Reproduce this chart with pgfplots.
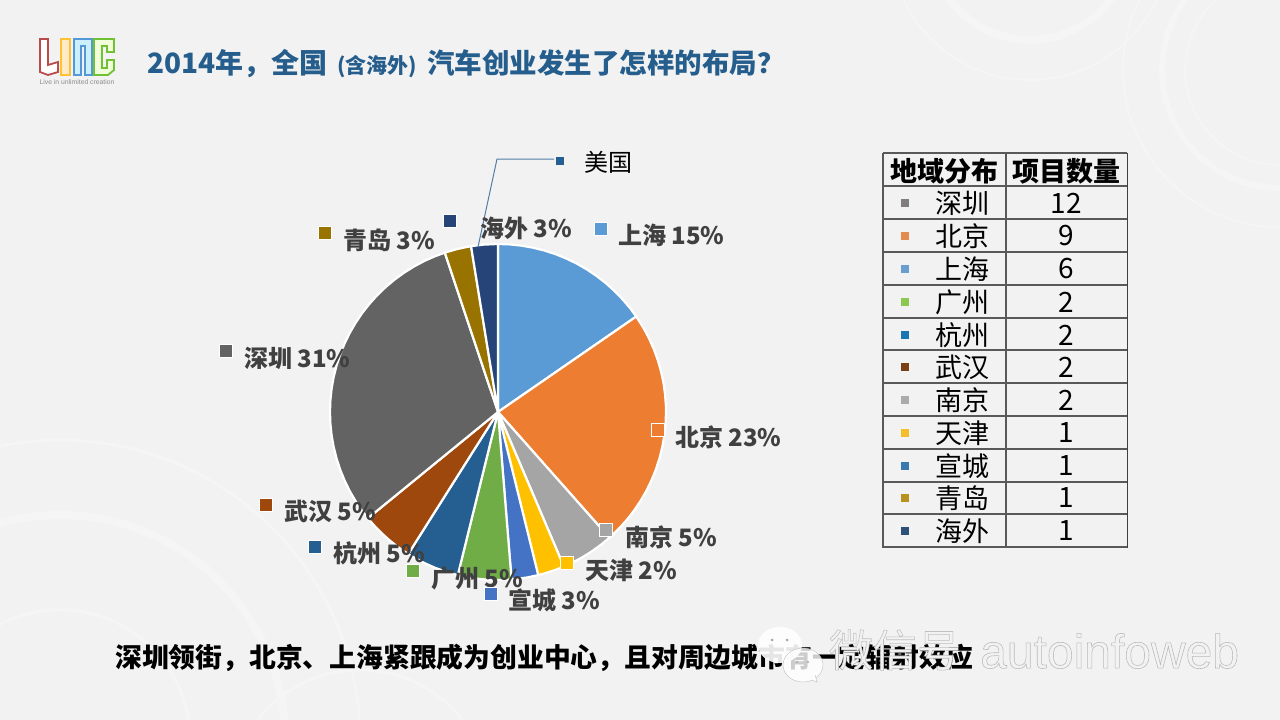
\documentclass[border=0pt]{standalone}
\usepackage{pgfplots}
\usepgfplotslibrary{polar}
\pgfplotsset{compat=1.18}
\usepackage{fontspec}
\setmainfont{Noto Sans CJK SC}
\newfontfamily\wmfont{Liberation Sans}
\newcommand\fs[1]{\fontsize{#1}{#1}\selectfont}
\newcommand\outl[2]{\special{pdf:code #1 G 2 Tr 0.55 w}#2\special{pdf:code 0 Tr 0 G}}
% pie colours
\definecolor{cSH}{HTML}{5B9BD5}\definecolor{cBJ}{HTML}{ED7D31}\definecolor{cNJ}{HTML}{A5A5A5}
\definecolor{cTJ}{HTML}{FFC000}\definecolor{cXC}{HTML}{4472C4}\definecolor{cGZ}{HTML}{70AD47}
\definecolor{cHZ}{HTML}{255E91}\definecolor{cWH}{HTML}{9E480E}\definecolor{cSZ}{HTML}{636363}
\definecolor{cQD}{HTML}{997300}\definecolor{cHW}{HTML}{264478}
% table colours
\definecolor{tSZ}{HTML}{807C80}\definecolor{tBJ}{HTML}{E38B4F}\definecolor{tSH}{HTML}{6B9ED0}
\definecolor{tGZ}{HTML}{8CC850}\definecolor{tHZ}{HTML}{1A75B0}\definecolor{tWH}{HTML}{7A4015}
\definecolor{tNJ}{HTML}{ABABAB}\definecolor{tTJ}{HTML}{F4BE2C}\definecolor{tXC}{HTML}{3A78B0}
\definecolor{tQD}{HTML}{B8921E}\definecolor{tHW}{HTML}{2C5078}
\definecolor{bgc}{HTML}{F2F2F2}\definecolor{ring}{HTML}{F5F5F5}
\definecolor{titlec}{HTML}{255E8C}\definecolor{lab}{HTML}{404040}
\pgfplotsset{px/.style={at={(0pt,0pt)},anchor=south west,scale only axis,width=1280pt,height=720pt,
  xmin=0,xmax=1280,ymin=0,ymax=720,y dir=reverse,hide axis,clip=false}}
\newcommand\W[2]{\addplot[fill=#1,draw=white,line width=2.2pt,line join=round] coordinates {(0,0) #2} -- cycle;}
\newcommand\SQ[3]{\addplot[only marks,mark=square*,mark size=6.5pt,color=#1,mark options={fill=#1,draw=white,line width=0.8pt}] coordinates {(#2,#3)};}
\newcommand\TS[3]{\addplot[only marks,mark=square*,mark size=3.8pt,color=#1,mark options={fill=#1,draw=#1,line width=0pt}] coordinates {(#2,#3)};}
\newcommand\LB[3]{\node[anchor=west,inner sep=0pt,text=lab,font=\fs{24}\bfseries] at (#1,#2) {#3};}
\newcommand\RW[3]{\node[font=\fs{27}] at (962,#1) {#2};\node[font=\fs{28}] at (1066,#1) {#3};}
\begin{document}
\begin{tikzpicture}[x=1pt,y=1pt]
\useasboundingbox (0,0) rectangle (1280,720);
\fill[bgc] (0,0) rectangle (1280,720);
% background and logo
\begin{axis}[px]
\begin{scope}
\clip (0,0) rectangle (1280,720);
\draw[ring,line width=2pt] (1280,70) circle[radius=157];
\draw[ring,line width=6pt] (1280,70) circle[radius=118];
\draw[ring,line width=2pt] (1280,70) circle[radius=95];
\draw[ring,line width=2pt] (1030,-60) circle[radius=140];
\draw[ring,line width=8pt] (1030,-60) circle[radius=100];
\draw[ring,line width=3pt] (60,740) circle[radius=300];
\draw[ring,line width=8pt] (60,740) circle[radius=225];
\draw[ring,line width=3pt] (60,740) circle[radius=130];
\draw[ring,line width=3pt] (360,800) circle[radius=130];
\end{scope}
\draw[line width=1.8pt,draw=red!60!black!70!white,fill=white] (40,39)--(48,39)--(48,65)--(58,62)--(58,72)--(48,75)--(40,72)--cycle;
\draw[line width=1.8pt,draw=orange!60!yellow!80!white,fill=yellow!25!orange!20!white] (61,39) rectangle (70,75);
\draw[line width=1.8pt,draw=cyan!60!blue!70!white,fill=cyan!20!white] (74,39)--(92,39)--(92,75)--(85,75)--(85,46)--(81,46)--(81,75)--(74,75)--cycle;
\draw[line width=1.8pt,draw=green!40!olive!80!white,fill=green!40!yellow!15!white] (94,39)--(114,39)--(114,52)--(107,52)--(107,46)--(102,46)--(102,68)--(107,68)--(107,60)--(114,60)--(114,70)--(108,75)--(94,75)--cycle;
\node[text=gray!90,font=\wmfont\fs{6.8},inner sep=0pt] at (77,82) {Live in unlimited creation};
\end{axis}
% pie
\begin{polaraxis}[at={(498pt,308pt)},anchor=center,scale only axis,width=336pt,height=336pt,
  xmin=0,xmax=360,ymin=0,ymax=168,hide axis,clip=false]
\W{cSH}{(90,168)(86,168)(82,168)(78,168)(74,168)(70,168)(66,168)(62,168)(58,168)(54,168)(50,168)(46,168)(42,168)(38,168)(34.62,168)}
\W{cBJ}{(34.62,168)(30,168)(26,168)(22,168)(18,168)(14,168)(10,168)(6,168)(2,168)(0,168)(356,168)(352,168)(348,168)(344,168)(340,168)(336,168)(332,168)(328,168)(324,168)(320,168)(316,168)(311.54,168)}
\W{cNJ}{(311.54,168)(308,168)(304,168)(300,168)(296,168)(293.08,168)}
\W{cTJ}{(293.08,168)(290,168)(286,168)(283.85,168)}
\W{cXC}{(283.85,168)(280,168)(276,168)(274.62,168)}
\W{cGZ}{(274.62,168)(272,168)(268,168)(264,168)(260,168)(256.15,168)}
\W{cHZ}{(256.15,168)(252,168)(248,168)(244,168)(240,168)(237.69,168)}
\W{cWH}{(237.69,168)(234,168)(230,168)(226,168)(222,168)(219.23,168)}
\W{cSZ}{(219.23,168)(216,168)(212,168)(208,168)(204,168)(200,168)(196,168)(192,168)(188,168)(184,168)(180,168)(176,168)(172,168)(168,168)(164,168)(160,168)(156,168)(152,168)(148,168)(144,168)(140,168)(136,168)(132,168)(128,168)(124,168)(120,168)(116,168)(112,168)(108.46,168)}
\W{cQD}{(108.46,168)(104,168)(99.23,168)}
\W{cHW}{(99.23,168)(95,168)(90,168)}
\end{polaraxis}
% overlay: labels, table, title
\begin{axis}[px]
\addplot[color=cHZ!80!white,line width=1pt] coordinates {(478,247)(497,159)(554,159)};
\addplot[only marks,mark=square*,mark size=3.2pt,color=cHZ,mark options={fill=cHZ,draw=cHZ,line width=0pt}] coordinates {(560,161)};
\node[anchor=west,inner sep=0pt,font=\fs{24}] at (584,162) {美国};
\SQ{cHW}{450}{221}\LB{480}{228}{海外 3\%}
\SQ{cSH}{601}{229}\LB{618}{235}{上海 15\%}
\SQ{cQD}{325}{233}\LB{343}{240}{青岛 3\%}
\SQ{cSZ}{226}{351}\LB{244}{358}{深圳 31\%}
\SQ{cBJ}{658}{430}\LB{675}{437}{北京 23\%}
\SQ{cNJ}{606}{530}\LB{625}{537}{南京 5\%}
\SQ{cTJ}{567}{563}\LB{585}{570}{天津 2\%}
\SQ{cXC}{491}{594}\LB{508}{600}{宣城 3\%}
\SQ{cGZ}{413}{571}\LB{431}{578}{广州 5\%}
\SQ{cHZ}{315}{547}\LB{333}{553}{杭州 5\%}
\SQ{cWH}{266}{505}\LB{284}{511}{武汉 5\%}
% table
\draw[gray!70!black,line width=1.6pt] (883,153)--(883,548) (1006,153)--(1006,548) (883,153)--(1127,153);
\draw[black!75,line width=1pt] (1127,153)--(1127,548);
\draw[black!65,line width=1.2pt] (883,186)--(1127,186) (883,219)--(1127,219) (883,252)--(1127,252) (883,285)--(1127,285) (883,318)--(1127,318) (883,350)--(1127,350) (883,383)--(1127,383) (883,416)--(1127,416) (883,449)--(1127,449) (883,482)--(1127,482) (883,514)--(1127,514) (883,547)--(1127,547);
\node[font=\fs{27}\bfseries] at (944,171) {地域分布};
\node[font=\fs{27}\bfseries] at (1066,171) {项目数量};
\TS{tSZ}{905}{203}\RW{203}{深圳}{12}
\TS{tBJ}{905}{236}\RW{236}{北京}{9}
\TS{tSH}{905}{269}\RW{269}{上海}{6}
\TS{tGZ}{905}{302}\RW{302}{广州}{2}
\TS{tHZ}{905}{335}\RW{335}{杭州}{2}
\TS{tWH}{905}{367}\RW{367}{武汉}{2}
\TS{tNJ}{905}{400}\RW{400}{南京}{2}
\TS{tTJ}{905}{433}\RW{433}{天津}{1}
\TS{tXC}{905}{466}\RW{466}{宣城}{1}
\TS{tQD}{905}{498}\RW{498}{青岛}{1}
\TS{tHW}{905}{531}\RW{531}{海外}{1}
% title
\node[anchor=west,inner sep=0pt,text=titlec,font=\fs{28}\bfseries] at (147,64) {2014年，全国{\fs{21}\hspace{10pt}(含海外)\hspace{10pt}}{\fs{27.5}汽车创业发生了怎样的布局？}};
% conclusion
\node[anchor=west,inner sep=0pt,text=black,font=\fs{26.8}\bfseries] at (115,658) {深圳领街，北京、上海紧跟成为创业中心，且对周边城市有一定辐射效应};
% watermark
\fill[white,fill opacity=0.9] (780,645) ellipse[x radius=22,y radius=18];
\draw[gray!50,fill=white,fill opacity=0.8] (803,665) ellipse[x radius=20,y radius=17];
\draw[gray!50,fill=white] (812,680)--(817,682)--(815,675);
\fill[gray!70] (772,640) circle[radius=1.5] (787,640) circle[radius=1.5] (797,662) circle[radius=1.2] (808,662) circle[radius=1.2];
\node[font=\fs{44},text=bgc,inner sep=0pt] at (895,650) {\outl{0.75}{微信号}};
\node[anchor=west,font=\wmfont\fs{48},text=bgc,inner sep=0pt] at (980,651) {\outl{0.72}{autoinfoweb}};
\end{axis}
\end{tikzpicture}
\end{document}
